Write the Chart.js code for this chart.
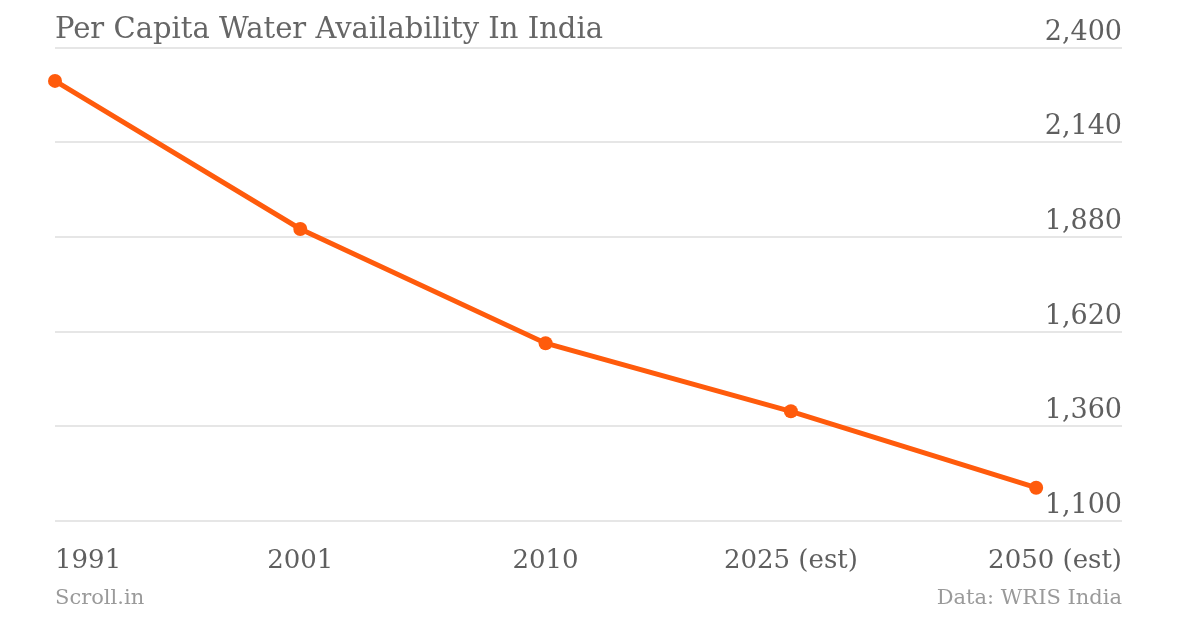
<!DOCTYPE html>
<html>
<head>
<meta charset="utf-8">
<script src="https://cdn.jsdelivr.net/npm/chart.js@4"></script>
<style>
  html, body { margin: 0; padding: 0; background: #fff; }
  #wrap { position: relative; width: 1200px; height: 618px; }
  .foot { position: absolute; top: 585px; font-family: 'DejaVu Serif', serif; font-size: 21px; color: #9a9a9a; }
</style>
</head>
<body>
<div id="wrap">
  <canvas id="chart"></canvas>
  <div class="foot" style="left:55px">Scroll.in</div>
  <div class="foot" style="right:78px">Data: WRIS India</div>
</div>
<script>
// data
const years = ['1991', '2001', '2010', '2025 (est)', '2050 (est)'];
const waterPerCapita = [2309, 1902, 1588, 1401, 1191];
const yTicks = [1100, 1360, 1620, 1880, 2140, 2400];

const FONT = "'DejaVu Serif', serif";
const ORANGE = '#ff5b0c';

// first / last x label sit flush with the plot edges, like the original
const clampEnds = {
  id: 'clampEnds',
  afterLayout(chart) {
    const area = chart.chartArea;
    const items = chart.scales.x.getLabelItems(area);
    if (!items.length) return;
    items[0].options.textAlign = 'left';
    items[0].options.translation[0] = area.left;
    const last = items[items.length - 1];
    last.options.textAlign = 'right';
    last.options.translation[0] = area.right;
  }
};

new Chart(document.getElementById('chart'), {
  type: 'line',
  data: {
    datasets: [{
      data: waterPerCapita.map((v, i) => ({ x: i, y: v })),
      borderColor: ORANGE,
      backgroundColor: ORANGE,
      borderWidth: 5,
      pointRadius: 7,
      pointBorderWidth: 0,
      fill: false,
      tension: 0,
      clip: false,
    }],
  },
  options: {
    responsive: true,
    maintainAspectRatio: false,
    animation: false,
    layout: { padding: { left: 55, right: 78, top: 0, bottom: 24 } },
    plugins: {
      legend: { display: false },
      tooltip: { enabled: false },
      title: {
        display: true,
        text: 'Per Capita Water Availability In India',
        align: 'start',
        color: '#666',
        font: { family: FONT, size: 29, weight: 'normal' },
        padding: { top: 13, bottom: 0 },
      },
    },
    scales: {
      x: {
        type: 'linear',
        min: 0,
        max: 4.35,
        afterBuildTicks: (s) => { s.ticks = years.map((_, i) => ({ value: i })); },
        grid: { display: false },
        border: { display: false },
        ticks: {
          callback: (v) => years[v],
          color: '#5f5f5f',
          font: { family: FONT, size: 26 },
          padding: 17,
          maxRotation: 0,
          autoSkip: false,
        },
      },
      y: {
        position: 'right',
        min: 1100,
        max: 2400,
        afterBuildTicks: (s) => { s.ticks = yTicks.map((v) => ({ value: v })); },
        grid: { color: '#e6e6e6', lineWidth: 2, drawTicks: false },
        border: { display: false },
        ticks: {
          mirror: true,
          padding: 0,
          labelOffset: -15,
          color: '#5f5f5f',
          font: { family: FONT, size: 27 },
          callback: (v) => v.toLocaleString('en-US'),
        },
      },
    },
  },
  plugins: [clampEnds],
});
</script>
</body>
</html>
